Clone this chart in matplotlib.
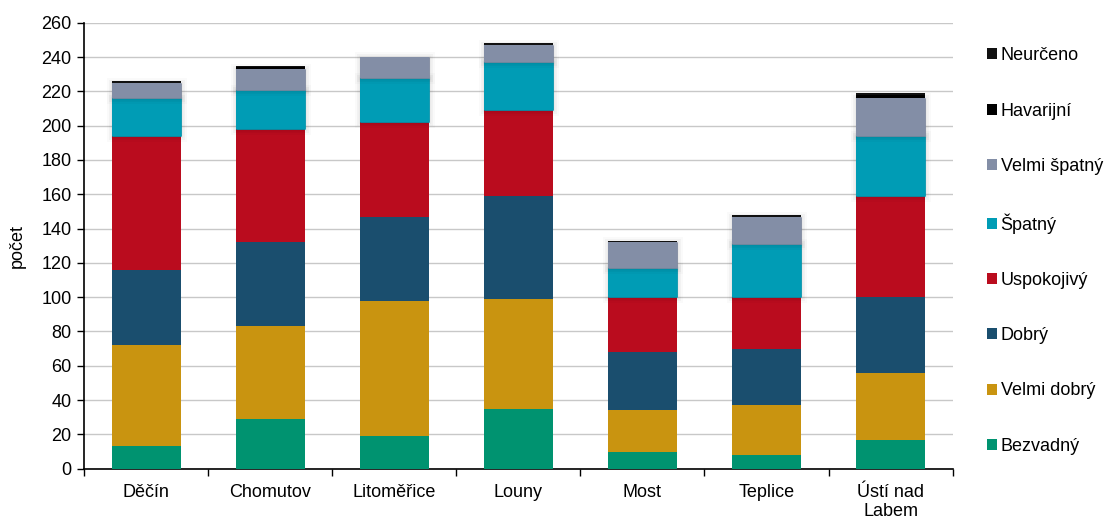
import matplotlib.pyplot as plt
import matplotlib.patheffects as pe
from matplotlib.patches import Patch
import numpy as np

plt.rcParams["font.family"] = ["Liberation Sans", "DejaVu Sans"]
plt.rcParams["font.size"] = 13

districts = ["Děčín", "Chomutov", "Litoměřice", "Louny", "Most", "Teplice", "Ústí nad\nLabem"]

# counts per condition class, bottom to top
bezvadny = [13, 29, 19, 35, 10, 8, 17]
velmi_dobry = [59, 54, 79, 64, 24, 29, 39]
dobry = [44, 49, 49, 60, 34, 33, 44]
uspokojivy = [78, 66, 55, 50, 32, 30, 59]
spatny = [22, 23, 26, 28, 17, 31, 35]
velmi_spatny = [9, 12, 12, 10, 15, 16, 22]
havarijni = [0, 1, 0, 0, 0, 0, 2]
neurceno = [1, 1, 0, 1, 1, 1, 1]

series = [
    ("Bezvadný", bezvadny, "#009370"),
    ("Velmi dobrý", velmi_dobry, "#C99410"),
    ("Dobrý", dobry, "#1A4E6E"),
    ("Uspokojivý", uspokojivy, "#BA0C1E"),
    ("Špatný", spatny, "#009CB5"),
    ("Velmi špatný", velmi_spatny, "#838EA6"),
    ("Havarijní", havarijni, "#000000"),
    ("Neurčeno", neurceno, "#111111"),
]

fig = plt.figure(figsize=(11.07, 5.2), dpi=100)
ax = fig.add_axes([0.0759, 0.0987, 0.7847, 0.8576])

x = np.arange(len(districts))
bottom = np.zeros(len(districts))
glow = [pe.withStroke(linewidth=8, foreground=(0, 0, 0, 0.02)),
        pe.withStroke(linewidth=5, foreground=(0, 0, 0, 0.03)),
        pe.withStroke(linewidth=2.5, foreground=(0, 0, 0, 0.03))]
for i, (name, vals, color) in enumerate(series):
    vals = np.array(vals)
    bars = ax.bar(x, vals, 0.556, bottom=bottom, color=color, label=name,
                  zorder=3 + i, linewidth=0)
    if i in (4, 5):
        for b in bars:
            if b.get_height() > 0:
                b.set_path_effects(glow + [pe.Normal()])
    bottom += vals

ax.set_xlim(-0.5, len(districts) - 0.5)
ax.set_ylim(0, 260)
ax.set_yticks(range(0, 261, 20))
ax.grid(axis="y", color="#C8C8C8", linewidth=1, zorder=0)
ax.set_axisbelow(True)

ax.set_xticks(x)
ax.set_xticklabels(districts, linespacing=1.15)
ax.set_xticks(np.arange(-0.5, len(districts)), minor=True)
ax.tick_params(axis="x", which="major", length=0, pad=11)
ax.tick_params(axis="x", which="minor", length=5, width=1, direction="out")
ax.tick_params(axis="y", length=5, width=1, pad=4)

for s in ["top", "right"]:
    ax.spines[s].set_visible(False)
ax.spines["left"].set_linewidth(1.2)
ax.spines["bottom"].set_linewidth(1.2)

ax.set_ylabel("počet", labelpad=11)

handles = [Patch(facecolor=c, label=n) for n, _, c in series][::-1]
fig.legend(handles=handles, loc="upper left", bbox_to_anchor=(0.8916, 0.909),
           frameon=False, handlelength=0.55, handleheight=0.55,
           handletextpad=0.2, labelspacing=2.12, borderpad=0, borderaxespad=0)

fig.savefig("out.png", dpi=100)
